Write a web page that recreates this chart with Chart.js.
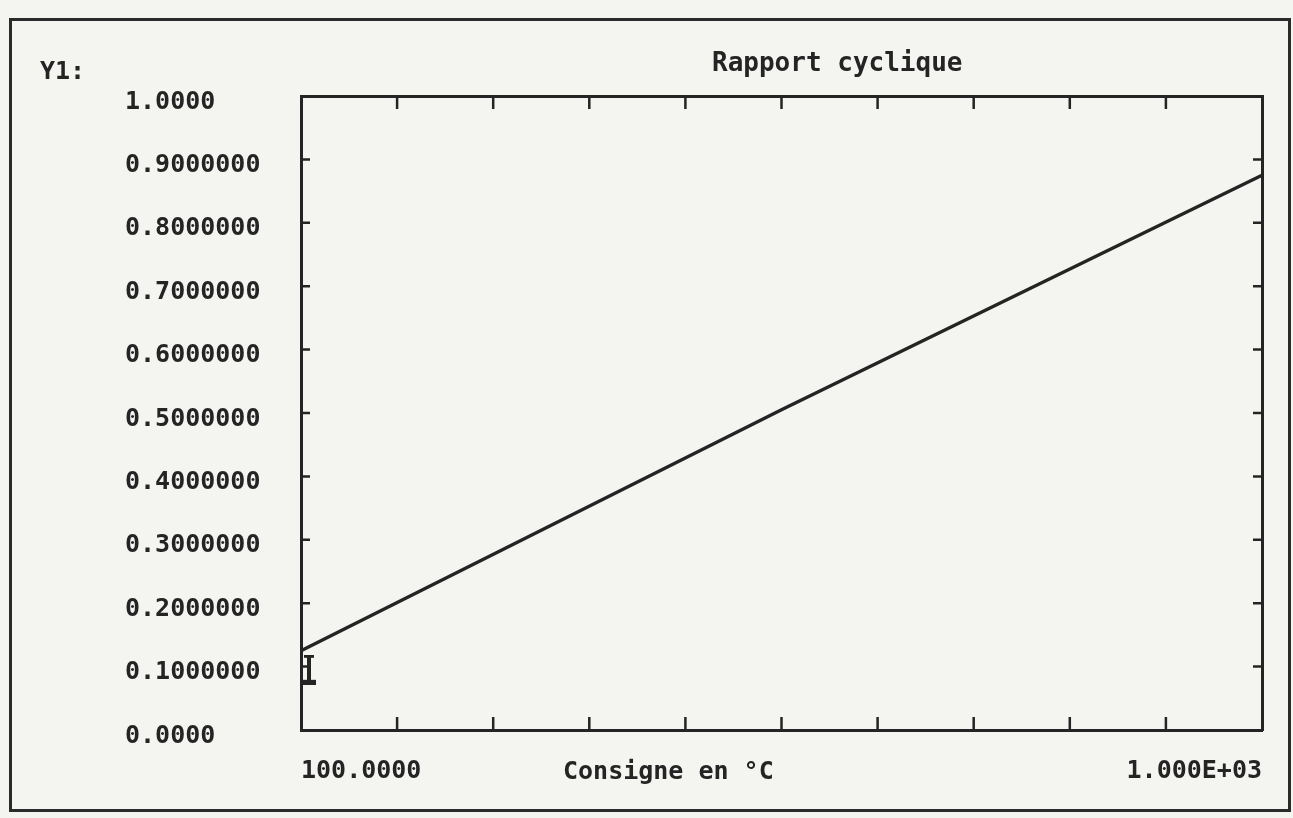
<!DOCTYPE html>
<html>
<head>
<meta charset="utf-8">
<script src="https://cdn.jsdelivr.net/npm/chart.js@4.4.0/dist/chart.umd.min.js"></script>
<style>
  html, body { margin: 0; padding: 0; background: #f4f4f1; }
  #frame { position: absolute; left: 9px; top: 18px; width: 1276px; height: 788px; border: 3px solid #2a2a2a; }
  #wrap { position: absolute; left: 0; top: 0; width: 1293px; height: 818px; }
</style>
</head>
<body>
<div id="frame"></div>
<div id="wrap"><canvas id="chart" width="1293" height="818"></canvas></div>
<script>
// values
const consigne = [100, 550, 1000];
const rapport = [0.125, 0.505, 0.875];
const markX = [100];
const markY = [0.095];

const xTicks = [100, 190, 280, 370, 460, 550, 640, 730, 820, 910, 1000];
const xTickLabels = ['100.0000', '', '', '', '', '', '', '', '', '', '1.000E+03'];
const yTicks = [0, 0.1, 0.2, 0.3, 0.4, 0.5, 0.6, 0.7, 0.8, 0.9, 1.0];
const yTickLabels = ['0.0000', '0.1000000', '0.2000000', '0.3000000', '0.4000000',
  '0.5000000', '0.6000000', '0.7000000', '0.8000000', '0.9000000', '1.0000'];

const ink = '#242424';
const fontFamily = '"DejaVu Sans Mono", "Liberation Mono", monospace';
const printFont = { family: fontFamily, size: 25, weight: 'bold' };

// the "I" character the plotter put at the first point
const iMark = document.createElement('canvas');
iMark.width = 32; iMark.height = 30;
(function () {
  const c = iMark.getContext('2d');
  c.fillStyle = ink;
  c.fillRect(19, 0, 10, 3);
  c.fillRect(22, 0, 4, 30);
  c.fillRect(17, 25, 14, 5);
})();

// tick marks drawn inward, like the original plotter
const innerTicks = {
  id: 'innerTicks',
  afterDraw(chart) {
    const { ctx, chartArea: a, scales } = chart;
    ctx.save();
    ctx.strokeStyle = ink;
    ctx.lineWidth = 2.5;
    ctx.beginPath();
    scales.x.ticks.slice(1, -1).forEach(t => {
      const px = scales.x.getPixelForValue(t.value);
      ctx.moveTo(px, a.bottom); ctx.lineTo(px, a.bottom - 13);
      ctx.moveTo(px, a.top); ctx.lineTo(px, a.top + 13);
    });
    scales.y.ticks.slice(1, -1).forEach(t => {
      const py = scales.y.getPixelForValue(t.value);
      ctx.moveTo(a.left, py); ctx.lineTo(a.left + 9, py);
      ctx.moveTo(a.right, py); ctx.lineTo(a.right - 9, py);
    });
    ctx.stroke();
    ctx.restore();
  }
};

const printedText = {
  id: 'printedText',
  afterDraw(chart) {
    const ctx = chart.ctx;
    ctx.save();
    ctx.fillStyle = ink;
    ctx.textBaseline = 'middle';
    ctx.font = 'bold 25px ' + fontFamily;
    ctx.fillText('Y1:', 40, 72);
    ctx.fillText('Consigne en °C', 563, 772);
    ctx.font = 'bold 26px ' + fontFamily;
    ctx.fillText('Rapport cyclique', 712, 64);
    ctx.restore();
  }
};

const sideAxis = (pos, w) => ({
  position: pos,
  min: 0, max: pos === 'top' ? 1000 : 1,
  ticks: { display: false },
  grid: { drawOnChartArea: false, drawTicks: false },
  border: { display: true, color: ink, width: 3 },
  afterFit: s => { if (w) s.width = 0; else s.height = 0; }
});

new Chart(document.getElementById('chart'), {
  type: 'line',
  data: {
    datasets: [
      {
        data: consigne.map((x, i) => ({ x: x, y: rapport[i] })),
        borderColor: ink,
        borderWidth: 3.4,
        pointRadius: 0,
        tension: 0,
        clip: false
      },
      {
        data: markX.map((x, i) => ({ x: x, y: markY[i] })),
        showLine: false,
        pointStyle: iMark,
        clip: false
      }
    ]
  },
  options: {
    responsive: false,
    animation: false,
    devicePixelRatio: 1,
    layout: { padding: { left: 125, top: 96, right: 31, bottom: 0 } },
    plugins: { legend: { display: false }, tooltip: { enabled: false } },
    scales: {
      x: {
        type: 'linear',
        min: 100, max: 1000,
        afterBuildTicks: s => { s.ticks = xTicks.map(v => ({ value: v })); },
        afterFit: s => { s.height = 88; },
        ticks: {
          autoSkip: false,
          maxRotation: 0,
          align: 'inner',
          padding: 26,
          color: ink,
          font: printFont,
          callback: (v, i) => xTickLabels[i]
        },
        grid: { drawOnChartArea: false, drawTicks: false },
        border: { display: true, color: ink, width: 3 }
      },
      y: {
        min: 0, max: 1,
        afterBuildTicks: s => { s.ticks = yTicks.map(v => ({ value: v })); },
        afterFit: s => { s.width = 176; },
        ticks: {
          autoSkip: false,
          crossAlign: 'far',
          labelOffset: 6,
          color: ink,
          font: printFont,
          callback: (v, i) => yTickLabels[i]
        },
        grid: { drawOnChartArea: false, drawTicks: false },
        border: { display: true, color: ink, width: 3 }
      },
      xTop: Object.assign(sideAxis('top', false), { type: 'linear', min: 100 }),
      yRight: sideAxis('right', true)
    }
  },
  plugins: [innerTicks, printedText]
});
</script>
</body>
</html>
